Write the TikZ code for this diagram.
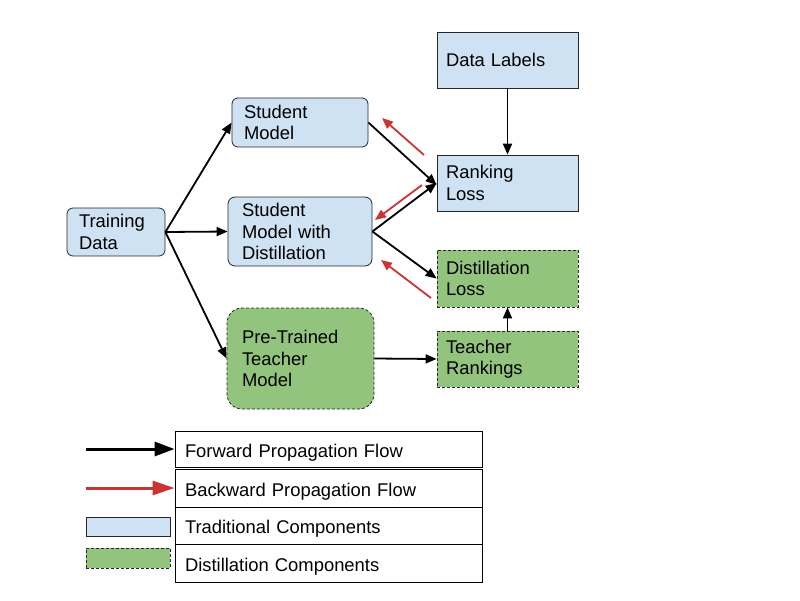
\documentclass[tikz,border=0pt]{standalone}
\usepackage{fontspec}
\setmainfont{Liberation Sans}
\usetikzlibrary{arrows.meta}
\definecolor{tradblue}{HTML}{CFE2F3}
\definecolor{distgreen}{HTML}{93C47D}
\definecolor{backred}{HTML}{CC3333}
\begin{document}
\begin{tikzpicture}[x=1pt,y=-1pt,
  every node/.style={font=\fontsize{18.4}{21.5}\selectfont},
  boxbase/.style={draw=black!85, line width=0.8pt, align=left, inner ysep=0pt},
  tradbox/.style={boxbase, fill=tradblue},
  distbox/.style={boxbase, fill=distgreen, dashed, dash pattern=on 3pt off 2pt},
  fwd/.style={line width=1.8pt, -{Triangle[length=11pt,width=9pt]}},
  bwd/.style={line width=1.8pt, backred, -{Triangle[length=11pt,width=9pt]}},
  legbox/.style={draw=black, line width=0.9pt, minimum width=307, text width=287, inner xsep=10pt, align=left, text height=16pt, text depth=0pt, inner ysep=0pt},
  swatch/.style={line width=0.8pt, minimum width=84, minimum height=19, inner sep=0pt}
]
\useasboundingbox (0,0) rectangle (800,600);

% main nodes
\node[tradbox, rounded corners=6pt, minimum width=98, minimum height=48, text width=74, inner xsep=12pt] (td) at (116,232) {Training\\Data};
\node[tradbox, rounded corners=6pt, minimum width=136, minimum height=49, text width=112, inner xsep=12pt] (sm) at (300,122.5) {Student\\Model};
\node[tradbox, rounded corners=7pt, minimum width=144, minimum height=69, text width=116, inner xsep=14pt] (smd) at (300,231.5) {Student\\Model with\\Distillation};
\node[distbox, rounded corners=15pt, minimum width=147, minimum height=101, text width=117, inner xsep=15pt] (tm) at (300.5,358.5) {Pre-Trained\\Teacher\\Model};
\node[tradbox, minimum width=141, minimum height=56, text width=123, inner xsep=9pt] (dlab) at (507.5,60) {Data Labels};
\node[tradbox, minimum width=141, minimum height=56, text width=123, inner xsep=9pt] (rl) at (507.5,183) {Ranking\\Loss};
\node[distbox, minimum width=141, minimum height=57, text width=123, inner xsep=9pt] (dl) at (507.5,278.5) {Distillation\\Loss};
\node[distbox, minimum width=141, minimum height=56, text width=123, inner xsep=9pt] (tr) at (507.5,359) {Teacher\\Rankings};

% forward arrows
\draw[fwd] (td.east) -- (sm.west);
\draw[fwd] (td.east) -- (smd.west);
\draw[fwd] (td.east) -- (tm.west);
\draw[fwd] (sm.east) -- ([yshift=-2]rl.west);
\draw[fwd] (smd.east) -- (rl.west);
\draw[fwd] (smd.east) -- (dl.west);
\draw[fwd] (tm.east) -- (tr.west);
\draw[fwd] (dlab.south) -- (rl.north);
\draw[fwd] (tr.north) -- (dl.south);

% backward arrows
\coordinate (b1s) at (424,155);
\coordinate (b1e) at (382,118);
\coordinate (b2s) at (422,185);
\coordinate (b2e) at (375,220);
\coordinate (b3s) at (431,298);
\coordinate (b3e) at (381,260);
\draw[bwd] (b1s) -- (b1e);
\draw[bwd] (b2s) -- (b2e);
\draw[bwd] (b3s) -- (b3e);

% legend
\node[legbox, minimum height=36] (lg1) at (328.5,449) {Forward Propagation Flow};
\node[legbox, minimum height=38] (lg2) at (328.5,488) {Backward Propagation Flow};
\node[legbox, minimum height=37] (lg3) at (328.5,525.5) {Traditional Components};
\node[legbox, minimum height=38] (lg4) at (328.5,563) {Distillation Components};
\coordinate (la1) at (86,449);
\coordinate (la2) at (86,488);
\draw[line width=3pt, -{Triangle[length=20pt,width=14pt]}] (la1) -- (lg1.west);
\draw[line width=3pt, backred, -{Triangle[length=22pt,width=14pt]}] (la2) -- (lg2.west);
\node[swatch, draw=black!85, fill=tradblue] (sw1) at (128,526.5) {};
\node[swatch, draw=black!85, fill=distgreen, dashed, dash pattern=on 3pt off 2pt, minimum height=20] (sw2) at (128,558) {};
\end{tikzpicture}
\end{document}
